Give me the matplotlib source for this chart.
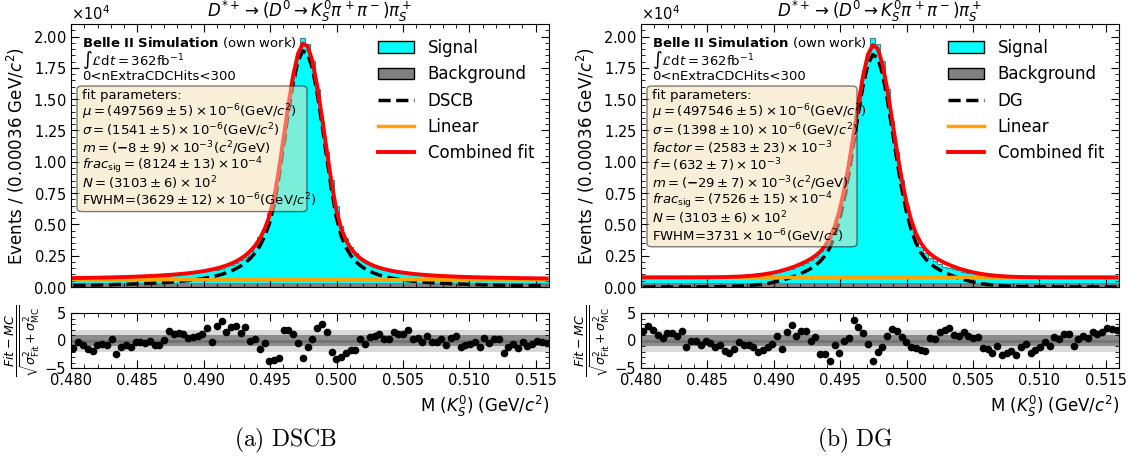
import numpy as np
import matplotlib
matplotlib.use("Agg")
from matplotlib import pyplot as plt
from matplotlib.ticker import AutoMinorLocator, MultipleLocator, FormatStrFormatter
from matplotlib.patches import Patch, FancyBboxPatch
from matplotlib.lines import Line2D

# binning of the K_S^0 mass histogram
m_lo, m_hi, n_bins = 0.480, 0.516, 100

# MC histogram (same sample in both fits), counts per bin
mc_total = [746, 722, 747, 770, 788, 769, 767, 785, 761, 849,
            820, 824, 847, 833, 850, 872, 878, 918, 939, 935,
            911, 954, 982, 1023, 1082, 1120, 1168, 1212, 1238, 1409,
            1388, 1448, 1654, 1755, 1924, 2193, 2402, 2866, 3285, 3958,
            4648, 5934, 7439, 9675, 11769, 14393, 16788, 18698, 19868, 19382,
            18009, 15779, 13245, 10769, 8548, 6434, 4903, 3888, 3202, 2731,
            2292, 2067, 1806, 1636, 1497, 1424, 1334, 1207, 1157, 1102,
            1032, 1042, 1002, 989, 925, 937, 910, 874, 891, 833,
            809, 852, 831, 813, 790, 803, 749, 765, 738, 734,
            792, 755, 735, 749, 716, 731, 717, 694, 698, 699]
mc_bkg = [338, 331, 342, 329, 336, 345, 330, 327, 339, 334,
          341, 328, 333, 337, 330, 344, 332, 326, 335, 340,
          331, 336, 329, 343, 334, 327, 338, 332, 341, 329,
          335, 330, 344, 326, 337, 333, 340, 328, 336, 331,
          339, 334, 327, 342, 330, 336, 329, 338, 333, 341,
          326, 335, 339, 330, 343, 328, 334, 337, 331, 340,
          329, 336, 333, 327, 342, 335, 330, 338, 326, 334,
          339, 331, 336, 328, 343, 332, 337, 329, 335, 330,
          341, 327, 334, 338, 331, 336, 329, 340, 333, 326,
          337, 332, 339, 330, 335, 328, 342, 334, 331, 336]

# fitted signal shapes evaluated at the bin centres
dscb_curve = [129, 135, 141, 147, 154, 162, 169, 178, 187, 197,
              207, 219, 231, 245, 259, 275, 293, 312, 333, 356,
              382, 410, 442, 477, 517, 562, 614, 672, 739, 816,
              906, 1010, 1134, 1281, 1460, 1677, 1946, 2284, 2714, 3277,
              4032, 5066, 6561, 8783, 11406, 14041, 16362, 18048, 18854, 18647,
              17467, 15489, 13013, 10344, 7783, 5585, 4115, 3171, 2525, 2062,
              1720, 1458, 1254, 1091, 958, 850, 759, 682, 617, 561,
              513, 470, 433, 401, 371, 346, 322, 301, 283, 266,
              250, 236, 223, 211, 200, 190, 181, 172, 164, 157,
              150, 143, 137, 132, 126, 122, 117, 112, 108, 104]
dg_curve = [0, 0, 0, 0, 0, 0, 0, 1, 1, 2,
            2, 4, 5, 7, 10, 14, 20, 27, 36, 49,
            65, 86, 112, 144, 184, 233, 293, 364, 446, 543,
            655, 781, 923, 1085, 1267, 1475, 1730, 2056, 2499, 3132,
            4037, 5302, 6988, 9086, 11482, 13952, 16172, 17804, 18552, 18284,
            17050, 15067, 12677, 10206, 7949, 6055, 4594, 3525, 2774, 2248,
            1873, 1591, 1363, 1168, 999, 847, 712, 595, 491, 401,
            325, 261, 207, 162, 126, 97, 74, 56, 42, 31,
            23, 17, 12, 8, 6, 4, 3, 2, 1, 1,
            0, 0, 0, 0, 0, 0, 0, 0, 0, 0]
linear_dscb = [583, 581]
linear_dg = [769, 767]

pull_dscb = [-1.3, -0.2, -0.9, -1.5, -1.9, -0.9, -0.6, -0.9, 0.3, -2.5,
             -1.1, -0.8, -1.2, -0.2, -0.3, -0.5, -0.1, -0.8, -0.8, 0.1,
             1.7, 1.2, 1.3, 1.1, 0.5, 0.7, 0.8, 1.2, 2.3, -0.3,
             2.6, 3.6, 1.5, 2.5, 2.6, 1.4, 2.5, 0.0, 0.2, -1.6,
             -0.5, -3.8, -3.5, -3.2, 2.0, 1.9, 1.2, -0.5, -3.1, -1.1,
             0.3, 2.3, 3.0, 1.5, -2.0, -3.4, -3.0, -2.2, -1.7, -1.7,
             0.2, -0.6, 0.7, 0.9, 1.1, 0.2, 0.2, 1.6, 1.2, 1.2,
             1.9, 0.3, 0.4, -0.2, 0.9, -0.3, -0.2, 0.3, -0.9, 0.5,
             0.8, -1.2, -0.9, -0.7, -0.3, -1.1, 0.5, -0.4, 0.3, 0.2,
             -2.2, -1.1, -0.6, -1.3, -0.3, -1.0, -0.7, 0.0, -0.3, -0.5]
pull_dg = [1.7, 2.7, 1.9, 1.0, 0.5, 1.3, 1.3, 0.9, 1.8, -1.1,
           -0.1, -0.1, -0.8, -0.1, -0.5, -1.2, -0.8, -1.9, -2.3, -1.5,
           -0.3, -0.9, -0.9, -1.1, -2.0, -1.7, -1.2, -0.7, 0.8, -1.5,
           1.5, 2.8, 0.9, 1.7, 1.7, 0.0, 0.6, -2.5, -2.5, -3.7,
           -0.9, -2.2, 0.0, 0.5, 3.8, 2.5, 1.3, -0.7, -3.8, -2.1,
           -1.1, 0.9, 2.1, 1.7, 0.7, -0.2, -1.1, -1.3, -1.7, -1.9,
           0.5, 0.2, 1.6, 2.0, 2.2, 1.0, 0.8, 1.5, 0.8, 0.5,
           0.7, -1.3, -1.5, -2.3, -1.0, -2.6, -2.3, -1.9, -2.6, -1.2,
           -0.6, -2.3, -1.7, -1.1, -0.3, -1.0, 0.7, 0.3, 1.1, 1.1,
           -1.0, 0.3, 0.9, 0.5, 1.5, 1.1, 1.5, 2.3, 2.1, 2.0]

title = r"$D^{*+} \rightarrow (D^0 \rightarrow K_S^0 \pi^+ \pi^-) \pi_S^+$"

params_dscb = [
    "fit parameters:",
    r"$\mu = (497569 \pm 5) \times 10^{-6} (\mathrm{GeV}/c^2)$",
    r"$\sigma = (1541 \pm 5) \times 10^{-6} (\mathrm{GeV}/c^2)$",
    r"$m = (\mathbf{-}8 \pm 9) \times 10^{-3} (c^2/\mathrm{GeV})$",
    r"$frac_{\mathrm{sig}} = (8124 \pm 13) \times 10^{-4}$",
    r"$N = (3103 \pm 6) \times 10^{2}$",
    r"FWHM=$(3629 \pm 12) \times 10^{-6} (\mathrm{GeV}/c^2)$",
]
params_dg = [
    "fit parameters:",
    r"$\mu = (497546 \pm 5) \times 10^{-6} (\mathrm{GeV}/c^2)$",
    r"$\sigma = (1398 \pm 10) \times 10^{-6} (\mathrm{GeV}/c^2)$",
    r"$factor = (2583 \pm 23) \times 10^{-3}$",
    r"$f = (632 \pm 7) \times 10^{-3}$",
    r"$m = (\mathbf{-}29 \pm 7) \times 10^{-3} (c^2/\mathrm{GeV})$",
    r"$frac_{\mathrm{sig}} = (7526 \pm 15) \times 10^{-4}$",
    r"$N = (3103 \pm 6) \times 10^{2}$",
    r"FWHM=$3731 \times 10^{-6} (\mathrm{GeV}/c^2)$",
]

W, H = 1128.0, 470.0
AX_TOP, AX_BOT = 24.0, 287.0   # main axes in pixels
AX_W = 478.0


def py(pix):
    # pixel row -> axes fraction of the main axes
    return (AX_BOT - pix) / (AX_BOT - AX_TOP)


def style_ticks(ax):
    ax.xaxis.set_minor_locator(AutoMinorLocator(5))
    ax.yaxis.set_minor_locator(AutoMinorLocator(5))
    ax.tick_params(which="both", direction="in", top=True, right=True, labelsize=10.5)
    ax.tick_params(which="major", length=6)
    ax.tick_params(which="minor", length=3)


def draw_panel(ax, axp, sig_curve, sig_name, lin, pulls, params, box_right):
    edges = np.linspace(m_lo, m_hi, n_bins + 1)
    centers = 0.5 * (edges[:-1] + edges[1:])
    total = np.array(mc_total, dtype=float)
    bkg = np.array(mc_bkg, dtype=float)
    sig = total - bkg

    ax.hist([centers, centers], bins=edges, weights=[bkg, sig], stacked=True,
            histtype="stepfilled", color=["gray", "cyan"], edgecolor="none")
    ax.hist(centers, bins=edges, weights=total, histtype="step", color="#2f8f8f", lw=0.8)

    lin_y = np.linspace(lin[0], lin[1], n_bins)
    curve = np.array(sig_curve, dtype=float)
    ax.plot(centers, curve, color="black", ls="--", lw=2.5, dashes=(3.5, 1.6))
    ax.plot(centers, lin_y, color="orange", lw=2.5)
    ax.plot(centers, curve + lin_y, color="red", lw=2.8)

    handles = [Patch(facecolor="cyan", edgecolor="black", label="Signal"),
               Patch(facecolor="gray", edgecolor="black", label="Background"),
               Line2D([], [], color="black", ls="--", lw=2.5, dashes=(3.5, 1.6), label=sig_name),
               Line2D([], [], color="orange", lw=2.5, label="Linear"),
               Line2D([], [], color="red", lw=2.8, label="Combined fit")]
    ax.legend(handles=handles, loc="upper right", frameon=False, fontsize=12,
              bbox_to_anchor=(1.0, 1.0), handlelength=2.2, labelspacing=0.5)

    ax.set_xlim(m_lo, m_hi)
    ax.set_ylim(0, 21000)
    ax.ticklabel_format(axis="y", style="sci", scilimits=(4, 4), useMathText=True)
    ax.yaxis.get_offset_text().set_fontsize(10.5)
    ax.yaxis.set_major_locator(MultipleLocator(2500))
    style_ticks(ax)
    ax.tick_params(labelbottom=False)
    ax.set_ylabel("Events / (0.00036 GeV/$c^2$)", fontsize=12)
    ax.set_title(title, fontsize=12, pad=4)

    tx = 11.0 / AX_W
    ax.text(tx, py(42), r"$\mathbf{Belle\ II\ Simulation}$ (own work)",
            transform=ax.transAxes, fontsize=9.5, va="center")
    ax.text(tx, py(60), r"$\int\mathcal{L}\mathrm{d}t = 362\mathrm{fb}^{-1}$",
            transform=ax.transAxes, fontsize=9.5, va="center")
    ax.text(tx, py(77), "0<nExtraCDCHits<300", transform=ax.transAxes,
            fontsize=9.5, va="center")

    # parameter box drawn above the curves
    n = len(params)
    box_bot = 95 + 17.6 * (n - 1) + 11
    box = FancyBboxPatch((6.0 / AX_W, py(box_bot)), (box_right - 6.0) / AX_W,
                         py(86) - py(box_bot), boxstyle="round,pad=0,rounding_size=0.012",
                         transform=ax.transAxes, facecolor="wheat", edgecolor="black",
                         alpha=0.5, lw=1.0, zorder=5)
    ax.add_patch(box)
    for k, line in enumerate(params):
        ax.text(tx, py(95 + 17.6 * k), line, transform=ax.transAxes, fontsize=9.5,
                va="center", zorder=6)

    axp.axhspan(-2, 2, color="0.85", lw=0)
    axp.axhspan(-1, 1, color="0.55", lw=0)
    axp.axhline(0, color="0.45", lw=2)
    axp.plot(centers, pulls, "o", color="black", ms=4.5)
    axp.set_xlim(m_lo, m_hi)
    axp.set_ylim(-5, 5)
    axp.set_yticks([-5, 0, 5])
    style_ticks(axp)
    axp.xaxis.set_major_formatter(FormatStrFormatter("%.3f"))
    axp.set_ylabel(r"$\frac{Fit - MC}{\sqrt{\sigma_{\mathrm{Fit}}^2 + \sigma_{\mathrm{MC}}^2}}$",
                   fontsize=13, labelpad=2)
    axp.set_xlabel(r"M ($K_S^0$) (GeV/$c^2$)", fontsize=12, loc="right")


fig = plt.figure(figsize=(11.28, 4.70), dpi=100)
ax1 = fig.add_axes([71 / W, 1 - AX_BOT / H, AX_W / W, (AX_BOT - AX_TOP) / H])
ax1p = fig.add_axes([71 / W, 1 - 368 / H, AX_W / W, 55 / H])
ax2 = fig.add_axes([641 / W, 1 - AX_BOT / H, AX_W / W, (AX_BOT - AX_TOP) / H])
ax2p = fig.add_axes([641 / W, 1 - 368 / H, AX_W / W, 55 / H])

draw_panel(ax1, ax1p, dscb_curve, "DSCB", linear_dscb, pull_dscb, params_dscb, 236.0)
draw_panel(ax2, ax2p, dg_curve, "DG", linear_dg, pull_dg, params_dg, 216.0)

fig.text(285 / W, 1 - 440 / H, r"$\mathrm{(a)\ DSCB}$", ha="center", va="center",
         fontsize=17, math_fontfamily="cm")
fig.text(855 / W, 1 - 440 / H, r"$\mathrm{(b)\ DG}$", ha="center", va="center",
         fontsize=17, math_fontfamily="cm")

fig.savefig("out.png", dpi=100)
